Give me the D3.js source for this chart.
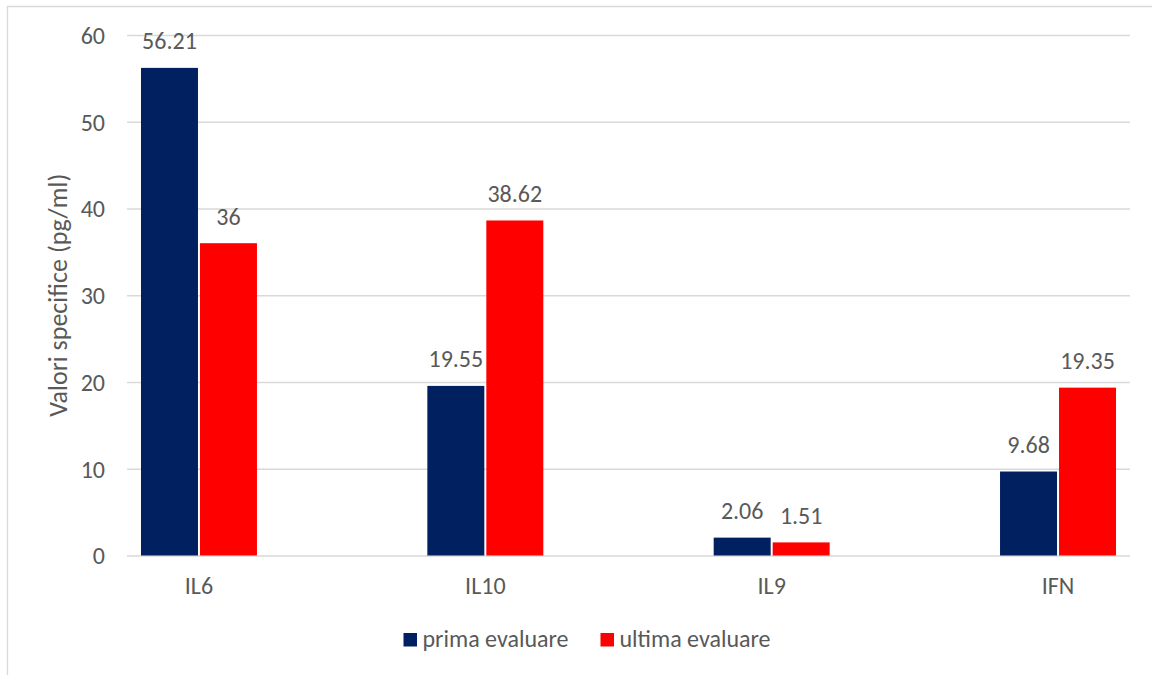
<!DOCTYPE html>
<html>
<head>
<meta charset="utf-8">
<script src="https://cdn.jsdelivr.net/npm/d3@7"></script>
<style>
  html, body { margin: 0; padding: 0; background: #ffffff; }
  svg { display: block; }
  text { font-family: Calibri, Carlito, "Open Sans", sans-serif; fill: #595959; }
</style>
</head>
<body>
<svg id="chart" width="1152" height="675"></svg>
<script>
// Cytokine levels, first vs last evaluation
const categories = ["IL6", "IL10", "IL9", "IFN"];
const seriesNames = ["prima evaluare", "ultima evaluare"];
const primaEvaluare = [56.21, 19.55, 2.06, 9.68];
const ultimaEvaluare = [36, 38.62, 1.51, 19.35];
const yTicks = [0, 10, 20, 30, 40, 50, 60];
const yTitle = "Valori specifice (pg/ml)";
const colors = ["#002060", "#FF0000"];

const FONT = 'Calibri, Carlito, "Open Sans", sans-serif';
const FS = 24;

const svg = d3.select("#chart");
const W = 1152, H = 675;

// outer frame
svg.append("path")
  .attr("d", `M7.5,${H} V6.5 H${W}`)
  .attr("fill", "none")
  .attr("stroke", "#d9d9d9")
  .attr("stroke-width", 1.3);

const gridLeft = 127, gridRight = 1130;
const y = d3.scaleLinear().domain([0, 60]).range([555.5, 35]);
const x = d3.scaleBand().domain(categories).range([55.8, 1201.2])
  .paddingInner(0.595).paddingOuter(0.2975);
const xs = d3.scaleBand().domain(seriesNames).range([0, x.bandwidth()])
  .paddingInner(0.0339);

// y axis with gridlines
const yAxis = d3.axisLeft(y).tickValues(yTicks)
  .tickSize(-(gridRight - gridLeft)).tickPadding(22).tickFormat(d3.format("d"));
const gy = svg.append("g").attr("transform", `translate(${gridLeft},0)`).call(yAxis);
gy.select(".domain").remove();
gy.selectAll(".tick line").attr("stroke", "#d9d9d9").attr("stroke-width", 1.3);
gy.selectAll(".tick text").attr("font-size", FS).attr("fill", "#595959")
  .attr("font-family", FONT).attr("dy", "0.35em");

// y axis title
svg.append("text")
  .attr("transform", `translate(67,${(y(0) + y(60)) / 2}) rotate(-90)`)
  .attr("text-anchor", "middle")
  .attr("font-size", 26)
  .text(yTitle);

// x axis category labels
const gx = svg.append("g").attr("transform", `translate(0,${y(0)})`)
  .call(d3.axisBottom(x).tickSize(0).tickPadding(0));
gx.select(".domain").remove();
gx.selectAll(".tick text").attr("font-size", FS).attr("fill", "#595959")
  .attr("font-family", FONT)
  .attr("dy", null).attr("y", 38.5);

// bars
const rows = categories.map((c, i) => ({
  cat: c,
  values: [
    { name: seriesNames[0], value: primaEvaluare[i], color: colors[0] },
    { name: seriesNames[1], value: ultimaEvaluare[i], color: colors[1] }
  ]
}));

const groups = svg.append("g").selectAll("g").data(rows).join("g")
  .attr("transform", d => `translate(${x(d.cat)},0)`);

groups.selectAll("rect").data(d => d.values).join("rect")
  .attr("x", d => xs(d.name))
  .attr("width", xs.bandwidth())
  .attr("y", d => y(d.value))
  .attr("height", d => y(0) - y(d.value))
  .attr("fill", d => d.color);

// value labels
groups.selectAll("text.val").data(d => d.values).join("text")
  .attr("class", "val")
  .attr("x", d => xs(d.name) + xs.bandwidth() / 2)
  .attr("y", d => y(d.value) - 18.5)
  .attr("text-anchor", "middle")
  .attr("font-size", FS)
  .text(d => String(d.value));

// legend
const legend = svg.append("g");
const items = legend.selectAll("g").data(seriesNames).join("g");
items.append("rect").attr("width", 13.5).attr("height", 13.5)
  .attr("y", 633).attr("fill", (d, i) => colors[i]);
items.append("text").attr("x", 19).attr("y", 646.5).attr("font-size", FS).text(d => d);
let cx = 0;
const offs = [];
items.each(function () {
  offs.push(cx);
  cx += 19 + this.querySelector("text").getComputedTextLength() + 32;
});
const total = cx - 32;
const startX = 587 - total / 2;
items.attr("transform", (d, i) => `translate(${startX + offs[i]},0)`);
</script>
</body>
</html>
